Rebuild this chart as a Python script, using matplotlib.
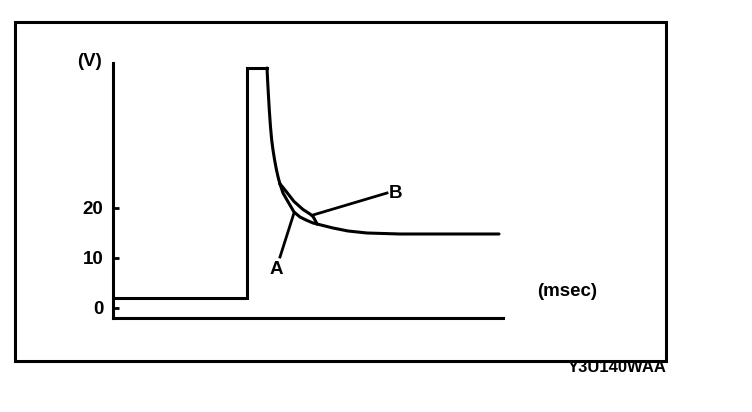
import matplotlib
matplotlib.use("Agg")
import matplotlib.pyplot as plt
from matplotlib.patches import Rectangle

plt.rcParams['font.family'] = ['Liberation Sans', 'DejaVu Sans']

# waveform (time in arbitrary ms units, voltage in V)
pulse_t = [0, 13.4, 13.4, 15.4]
pulse_v = [2, 2, 48, 48]

decay_t = [15.4, 15.46, 15.53, 15.63, 15.75, 15.87, 16.0, 16.16, 16.35, 16.53, 16.7]
decay_v = [48, 45.6, 43.0, 39.6, 36.2, 33.6, 31.6, 29.6, 27.6, 26.0, 24.8]

curve_a_t = [16.7, 17.0, 17.4, 18.1, 18.7, 19.3, 20.0, 20.4]
curve_a_v = [24.8, 23.0, 21.6, 19.2, 18.2, 17.6, 17.0, 16.8]

curve_b_t = [16.7, 17.0, 17.4, 18.1, 19.0, 19.7, 20.0, 20.2, 20.4]
curve_b_v = [24.8, 24.1, 23.1, 21.3, 19.7, 18.8, 18.3, 17.6, 16.8]

tail_t = [20.4, 21.2, 22.0, 23.5, 25.4, 28.7, 38.6]
tail_v = [16.8, 16.4, 16.0, 15.4, 15.0, 14.8, 14.8]

yticks = [0, 10, 20]

fig = plt.figure(figsize=(7.52, 4.12), dpi=100)
fig.patches.append(Rectangle((15 / 752, 51 / 412), 651 / 752, 339 / 412,
                             transform=fig.transFigure, fill=False,
                             edgecolor='black', linewidth=2.2))

ax = fig.add_axes([113 / 752, 94 / 412, 390 / 752, 255 / 412])
ax.set_xlim(0, 39)
ax.set_ylim(-2, 49)
ax.spines[['top', 'right']].set_visible(False)
for s in ['left', 'bottom']:
    ax.spines[s].set_linewidth(2.2)
ax.set_xticks([])
ax.set_yticks(yticks)
ax.tick_params(axis='y', direction='in', length=4, width=2, pad=7,
               labelsize=13.5)
for lab in ax.get_yticklabels():
    lab.set_fontweight('bold')

kw = dict(color='black', linewidth=2.2, clip_on=False,
          solid_joinstyle='round', solid_capstyle='round')
ax.plot(pulse_t, pulse_v, color='black', linewidth=2.2, clip_on=False,
        solid_joinstyle='miter')
ax.plot(decay_t, decay_v, **kw)
ax.plot(curve_a_t, curve_a_v, **kw)
ax.plot(curve_b_t, curve_b_v, **kw)
ax.plot(tail_t, tail_v, **kw)

# leader lines
ax.plot([16.7, 18.1], [10.2, 19.0], color='black', linewidth=2, clip_on=False)
ax.plot([20.0, 27.4], [18.6, 23.0], color='black', linewidth=2, clip_on=False)

tk = dict(fontsize=13.5, fontweight='bold', ha='center', va='center')
ax.text(16.3, 7.8, 'A', **tk)
ax.text(28.3, 23.0, 'B', **tk)
ax.text(-2.4, 49.4, '(V)', **tk)
ax.text(45.4, 3.4, '(msec)', **tk)

fig.text(617 / 752, 1 - 368 / 412, 'Y3U140WAA', fontsize=12,
         fontweight='bold', ha='center', va='center')

fig.savefig('out.png', dpi=100)
